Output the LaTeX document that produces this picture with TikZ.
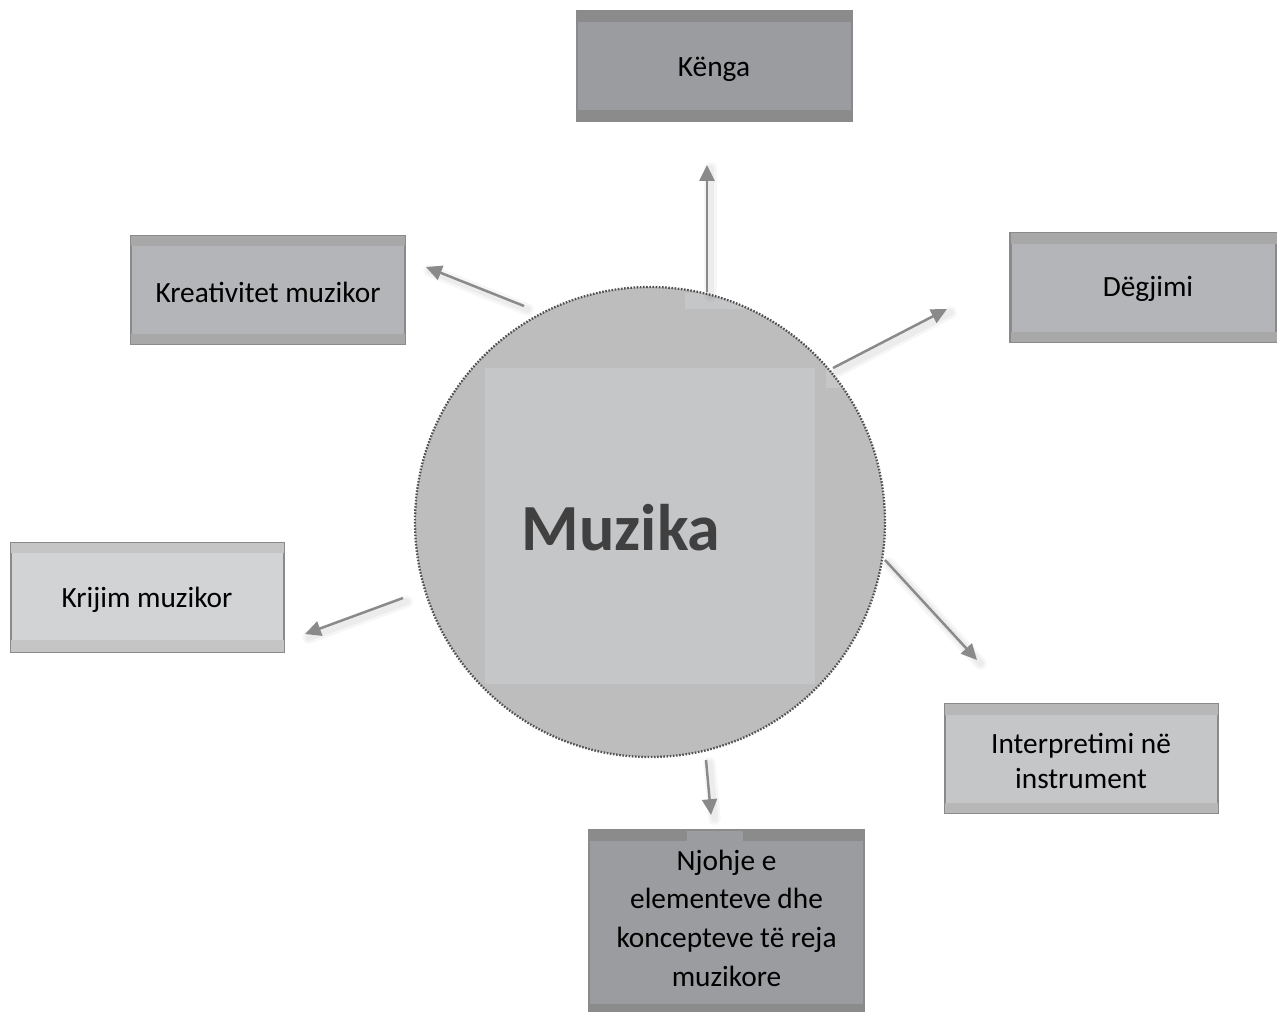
\documentclass[tikz,border=0pt]{standalone}
\usepackage{fontspec}
\setmainfont{Carlito}
\usetikzlibrary{arrows.meta}
\definecolor{arrowc}{HTML}{8A8A8A}
\definecolor{circfill}{HTML}{BDBDBD}
\definecolor{sqfill}{HTML}{C5C6C8}
\definecolor{dotc}{HTML}{505050}
\definecolor{txtdark}{HTML}{404040}
\definecolor{darkfill}{HTML}{9B9C9F}
\definecolor{darkband}{HTML}{8B8B8B}
\definecolor{midfill}{HTML}{B4B5B8}
\definecolor{midband}{HTML}{A8A8A8}
\definecolor{lightfill}{HTML}{D2D3D5}
\definecolor{lightband}{HTML}{C5C5C5}
\definecolor{lmfill}{HTML}{C5C6C8}
\definecolor{lmband}{HTML}{B7B7B7}
\definecolor{boxborder}{HTML}{8A8A8A}
\newdimen\pxu \pxu=0.02cm
\begin{document}
\begin{tikzpicture}[x=0.02cm,y=-0.02cm,
  boxnode/.style={rectangle, draw=boxborder, line width=1.2pt, inner sep=0pt},
  lbl/.style={align=center, text=black, font=\fontsize{16.7}{20}\selectfont},
  conn/.style={draw=arrowc, line width=1.4pt, -{Triangle[length=9pt,width=8.5pt]}},
  shad/.style={draw=black, opacity=#1, line cap=round}
]
\useasboundingbox (0,0) rectangle (1277,1011);

% ---------- central circle ----------
\node[circle, fill=circfill, minimum size=470*\pxu, inner sep=0pt] (c) at (650,522) {};
\begin{scope}
  \clip (650,522) circle[radius=235];
  \fill[sqfill] (685,293) rectangle (745,309);
  \fill[sqfill] (826,368) rectangle (845,388);
\end{scope}
\node[rectangle, fill=sqfill, minimum width=330*\pxu, minimum height=316*\pxu, inner sep=0pt] (sq) at (650,526) {};
\draw[dotc, line width=1.3pt, dash pattern=on 0.9pt off 0.9pt] (650,522) circle[radius=235];
\node[font=\fontsize{37.5}{40}\selectfont\bfseries, text=txtdark] (mz) at (621,528) {Muzika};

% ---------- boxes ----------
% Kenga
\node[boxnode, fill=darkfill, minimum width=275*\pxu, minimum height=110*\pxu] (kenga) at (714.5,66) {};
\fill[darkband] ([xshift=0.6pt,yshift=-0.6pt]kenga.north west) rectangle ([xshift=-0.6pt,yshift=-12*\pxu]kenga.north east);
\fill[darkband] ([xshift=0.6pt,yshift=12*\pxu]kenga.south west) rectangle ([xshift=-0.6pt,yshift=0.6pt]kenga.south east);
\node[lbl] (kengat) at (714,69) {Kënga};

% Kreativitet
\node[boxnode, fill=midfill, minimum width=274*\pxu, minimum height=108*\pxu] (kreat) at (268,290) {};
\fill[midband] ([xshift=0.6pt,yshift=-0.6pt]kreat.north west) rectangle ([xshift=-0.6pt,yshift=-11*\pxu]kreat.north east);
\fill[midband] ([xshift=0.6pt,yshift=11*\pxu]kreat.south west) rectangle ([xshift=-0.6pt,yshift=0.6pt]kreat.south east);
\node[lbl] (kreatt) at (268,292) {Kreativitet muzikor};

% Degjimi
\node[boxnode, fill=midfill, minimum width=266*\pxu, minimum height=109*\pxu] (degj) at (1143.5,287.5) {};
\fill[midband] ([xshift=0.6pt,yshift=-0.6pt]degj.north west) rectangle ([xshift=-0.6pt,yshift=-12*\pxu]degj.north east);
\fill[midband] ([xshift=0.6pt,yshift=11*\pxu]degj.south west) rectangle ([xshift=-0.6pt,yshift=0.6pt]degj.south east);
\node[lbl] (degjt) at (1148,289) {Dëgjimi};

% Krijim
\node[boxnode, fill=lightfill, minimum width=273*\pxu, minimum height=109*\pxu] (krij) at (147.5,597.5) {};
\fill[lightband] ([xshift=0.6pt,yshift=-0.6pt]krij.north west) rectangle ([xshift=-0.6pt,yshift=-11*\pxu]krij.north east);
\fill[lightband] ([xshift=0.6pt,yshift=13*\pxu]krij.south west) rectangle ([xshift=-0.6pt,yshift=0.6pt]krij.south east);
\node[lbl] (krijt) at (147,600) {Krijim muzikor};

% Interpretimi
\node[boxnode, fill=lmfill, minimum width=273*\pxu, minimum height=109*\pxu] (interp) at (1081.5,758.5) {};
\fill[lmband] ([xshift=0.6pt,yshift=-0.6pt]interp.north west) rectangle ([xshift=-0.6pt,yshift=-12*\pxu]interp.north east);
\fill[lmband] ([xshift=0.6pt,yshift=11*\pxu]interp.south west) rectangle ([xshift=-0.6pt,yshift=0.6pt]interp.south east);
\node[lbl, font=\fontsize{16.7}{20}\selectfont] (interpt) at (1081,761) {Interpretimi në\\instrument};

% Njohje
\node[boxnode, fill=darkfill, minimum width=275*\pxu, minimum height=184*\pxu] (njoh) at (726.5,922) {};
\fill[darkband] ([xshift=0.6pt,yshift=-0.6pt]njoh.north west) rectangle ([xshift=-0.6pt,yshift=-12*\pxu]njoh.north east);
\fill[darkfill] (687,830.6) rectangle (743,842);
\fill[darkband] ([xshift=0.6pt,yshift=11*\pxu]njoh.south west) rectangle ([xshift=-0.6pt,yshift=0.6pt]njoh.south east);
\node[lbl, font=\fontsize{16.7}{22}\selectfont] (njoht) at (726.5,918) {Njohje e\\elementeve dhe\\koncepteve të reja\\muzikore};

% ---------- connectors ----------
\coordinate (s1) at (707,292); \coordinate (t1) at (707,165);
\coordinate (s2) at (524,306); \coordinate (t2) at (426,267);
\coordinate (s3) at (833,368); \coordinate (t3) at (947,309);
\coordinate (s4) at (885,560); \coordinate (t4) at (977,660);
\coordinate (s5) at (403,598); \coordinate (t5) at (305,634);
\coordinate (s6) at (706,760); \coordinate (t6) at (711,815);

\foreach \s/\t in {s1/t1,s2/t2,s3/t3,s4/t4,s5/t5,s6/t6}{
  \draw[shad=0.035, line width=7pt] ([xshift=2pt,yshift=-2pt]\s) -- ([xshift=2pt,yshift=-2pt]\t);
  \draw[shad=0.04, line width=4pt] ([xshift=2pt,yshift=-2pt]\s) -- ([xshift=2pt,yshift=-2pt]\t);
}
\foreach \s/\t in {s1/t1,s2/t2,s3/t3,s4/t4,s5/t5,s6/t6}{
  \draw[conn] (\s) -- (\t);
}
\end{tikzpicture}
\end{document}
